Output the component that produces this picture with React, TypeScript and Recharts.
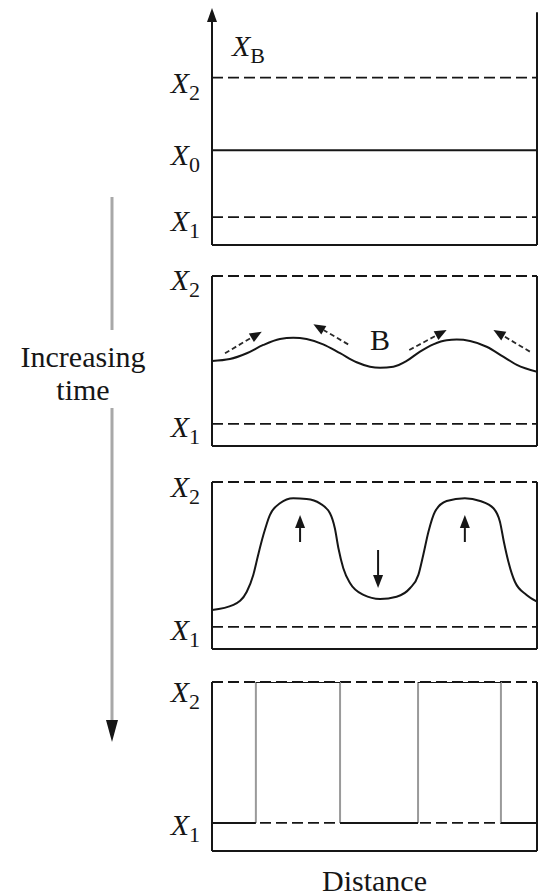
import { LineChart, Line, XAxis, YAxis, ReferenceLine, ReferenceDot } from "recharts";

// composition levels
const X1 = 1;
const X2 = 2;
const X0 = 1.48;

// stage 1: uniform solution
const distFlat = [0, 1];
const compFlat = [X0, X0];

// stage 2: small fluctuation
const distEarly = [
  0, 0.055, 0.107, 0.158, 0.209, 0.25, 0.291, 0.342, 0.394, 0.445, 0.486, 0.517,
  0.558, 0.599, 0.64, 0.681, 0.722, 0.753, 0.794, 0.845, 0.896, 0.938, 1,
];
const compEarly = [
  1.426, 1.439, 1.478, 1.534, 1.574, 1.583, 1.574, 1.538, 1.478, 1.417, 1.387, 1.38,
  1.387, 1.426, 1.489, 1.538, 1.566, 1.57, 1.561, 1.522, 1.455, 1.399, 1.353,
];

// stage 3: amplified fluctuation
const distLate = [
  0, 0.066, 0.107, 0.127, 0.142, 0.158, 0.178, 0.209, 0.25, 0.291, 0.332, 0.363,
  0.378, 0.389, 0.404, 0.425, 0.466, 0.517, 0.568, 0.609, 0.635, 0.65, 0.666, 0.686,
  0.722, 0.778, 0.825, 0.866, 0.886, 0.898, 0.912, 0.932, 0.968, 1,
];
const compLate = [
  1.117, 1.152, 1.243, 1.359, 1.497, 1.634, 1.772, 1.853, 1.888, 1.883, 1.853, 1.784,
  1.681, 1.543, 1.405, 1.301, 1.221, 1.193, 1.209, 1.267, 1.359, 1.497, 1.657, 1.795,
  1.869, 1.888, 1.869, 1.819, 1.726, 1.588, 1.45, 1.312, 1.221, 1.174,
];

// stage 4: two phases
const distFinal = [0, 0.135, 0.394, 0.634, 0.889, 1];
const compFinal = [X1, X2, X1, X2, X1, X1];

// diffusion arrows in stage 2 (dashed)
const flowTailD = [0.04, 0.419, 0.607, 0.978];
const flowTailC = [1.478, 1.538, 1.5, 1.489];
const flowTipD = [0.153, 0.312, 0.722, 0.866];
const flowTipC = [1.624, 1.674, 1.635, 1.635];

// growth arrows in stage 3
const growD = [0.271, 0.511, 0.778];
const growTailC = [1.586, 1.531, 1.586];
const growTipC = [1.772, 1.269, 1.772];

const INK = "#161616";
const FONT = "Liberation Serif";
const LEFT = 212;
const W = 542;

const toRows = (ds: number[], cs: (number | null)[]) => ds.map((d, i) => ({ d, v: cs[i] }));

// split the step profile in horizontal and vertical pieces
const finalFlats: { d: number; v: number | null }[] = [];
const finalSteps: { d: number; v: number | null }[] = [];
for (let i = 0; i < distFinal.length - 1; i++) {
  finalFlats.push({ d: distFinal[i], v: compFinal[i] }, { d: distFinal[i + 1], v: compFinal[i] }, { d: distFinal[i + 1], v: null });
  if (i > 0 && compFinal[i] !== compFinal[i - 1]) {
    finalSteps.push({ d: distFinal[i], v: compFinal[i - 1] }, { d: distFinal[i], v: compFinal[i] }, { d: distFinal[i], v: null });
  }
}

const arrowShape = (head: number, width: number, sw: number, dash?: string, color = INK) => (p: any) => {
  const { x1, y1, x2, y2 } = p;
  const a = Math.atan2(y2 - y1, x2 - x1);
  const bx = x2 - head * Math.cos(a);
  const by = y2 - head * Math.sin(a);
  const nx = (-Math.sin(a) * width) / 2;
  const ny = (Math.cos(a) * width) / 2;
  return (
    <g>
      <line x1={x1} y1={y1} x2={bx} y2={by} stroke={color} strokeWidth={sw} strokeDasharray={dash} />
      <polygon points={`${x2},${y2} ${bx + nx},${by + ny} ${bx - nx},${by - ny}`} fill={INK} />
    </g>
  );
};

function LevelTick(props: any) {
  const { y, payload, values, subs, shifts } = props;
  const idx = values.indexOf(payload.value);
  return (
    <text x={LEFT - 12} y={y + shifts[idx]} textAnchor="end" style={{ fontFamily: FONT }} fontSize={30} fill={INK}>
      <tspan fontStyle="italic">X</tspan>
      <tspan fontSize={22} dy={7}>
        {subs[idx]}
      </tspan>
    </text>
  );
}

interface PanelProps {
  top: number;
  height: number;
  margin: { top: number; bottom: number };
  domain: [number, number];
  ticks: number[];
  subs: string[];
  shifts: number[];
  arrowAxis?: boolean;
  distanceLabel?: boolean;
  children?: React.ReactNode;
}

function Panel({ top, height, margin, domain, ticks, subs, shifts, arrowAxis, distanceLabel, children }: PanelProps) {
  return (
    <div style={{ position: "absolute", left: 0, top }}>
      <LineChart width={W} height={height} margin={{ top: margin.top, bottom: margin.bottom, left: 0, right: 5 }}>
        <XAxis
          type="number"
          dataKey="d"
          domain={[0, 1]}
          allowDataOverflow
          hide={!distanceLabel}
          height={45}
          axisLine={false}
          tickLine={false}
          tick={false}
          label={
            distanceLabel
              ? { value: "Distance", position: "insideBottom", offset: 5, style: { fontFamily: FONT }, fontSize: 30, fill: INK }
              : undefined
          }
        />
        <YAxis
          type="number"
          domain={domain}
          allowDataOverflow
          width={LEFT}
          ticks={ticks}
          interval={0}
          tickLine={false}
          axisLine={arrowAxis ? false : { stroke: INK, strokeWidth: 2 }}
          tick={(p: any) => <LevelTick {...p} values={ticks} subs={subs} shifts={shifts} />}
        />
        {arrowAxis && (
          <ReferenceLine
            segment={[{ x: 0, y: domain[0] }, { x: 0, y: domain[1] }]}
            ifOverflow="visible"
            shape={arrowShape(14, 10, 2)}
          />
        )}
        <ReferenceLine y={domain[0]} stroke={INK} strokeWidth={2} ifOverflow="visible" />
        <ReferenceLine
          segment={[{ x: 1, y: domain[0] }, { x: 1, y: arrowAxis ? domain[1] - 0.03 : domain[1] }]}
          stroke={INK}
          strokeWidth={2}
          ifOverflow="visible"
        />
        <ReferenceLine y={X2} stroke={INK} strokeWidth={1.8} strokeDasharray="11 5" ifOverflow="visible" />
        <ReferenceLine y={X1} stroke={INK} strokeWidth={1.8} strokeDasharray="11 5" ifOverflow="visible" />
        {children}
      </LineChart>
    </div>
  );
}

export default function App() {
  return (
    <div style={{ position: "absolute", left: 0, top: 0, width: W, height: 896, background: "#fff", fontFamily: FONT }}>
      <Panel
        top={0}
        height={250}
        margin={{ top: 8, bottom: 5 }}
        domain={[0.8, 2.5]}
        ticks={[X1, X0, X2]}
        subs={["1", "0", "2"]}
        shifts={[14, 15, 15]}
        arrowAxis
      >
        <Line data={toRows(distFlat, compFlat)} dataKey="v" stroke={INK} strokeWidth={2} dot={false} activeDot={false} isAnimationActive={false} />
      </Panel>

      <Panel top={260} height={200} margin={{ top: 16, bottom: 14 }} domain={[0.851, 2]} ticks={[X1, X2]} subs={["1", "2"]} shifts={[13, 14]}>
        <Line
          data={toRows(distEarly, compEarly)}
          dataKey="v"
          type="monotone"
          stroke={INK}
          strokeWidth={2}
          dot={false}
          activeDot={false}
          isAnimationActive={false}
        />
        {flowTailD.map((d, i) => (
          <ReferenceLine
            key={i}
            segment={[{ x: d, y: flowTailC[i] }, { x: flowTipD[i], y: flowTipC[i] }]}
            ifOverflow="visible"
            shape={arrowShape(12, 10, 1.8, "5 3", "#2a2a2a")}
          />
        ))}
        <ReferenceDot
          x={0.517}
          y={1.57}
          r={0}
          ifOverflow="visible"
          label={{ value: "B", position: "center", style: { fontFamily: FONT }, fontSize: 30, fill: INK }}
        />
      </Panel>

      <Panel top={465} height={200} margin={{ top: 17, bottom: 16 }} domain={[0.848, 2]} ticks={[X1, X2]} subs={["1", "2"]} shifts={[13, 15]}>
        <Line
          data={toRows(distLate, compLate)}
          dataKey="v"
          type="monotone"
          stroke={INK}
          strokeWidth={2}
          dot={false}
          activeDot={false}
          isAnimationActive={false}
        />
        {growD.map((d, i) => (
          <ReferenceLine
            key={i}
            segment={[{ x: d, y: growTailC[i] }, { x: d, y: growTipC[i] }]}
            ifOverflow="visible"
            shape={arrowShape(13, 10, 2)}
          />
        ))}
      </Panel>

      <Panel
        top={665}
        height={231}
        margin={{ top: 17, bottom: 0 }}
        domain={[0.801, 2]}
        ticks={[X1, X2]}
        subs={["1", "2"]}
        shifts={[12, 20]}
        distanceLabel
      >
        <Line data={finalSteps} dataKey="v" stroke="#9a9a9a" strokeWidth={2} dot={false} activeDot={false} isAnimationActive={false} />
        <Line data={finalFlats} dataKey="v" stroke={INK} strokeWidth={2} dot={false} activeDot={false} isAnimationActive={false} />
      </Panel>

      <svg width={W} height={896} style={{ position: "absolute", left: 0, top: 0, pointerEvents: "none", fontFamily: FONT }}>
        <line x1={112} y1={197} x2={112} y2={330} stroke="#a8a8a8" strokeWidth={3} />
        <line x1={112} y1={408} x2={112} y2={722} stroke="#a8a8a8" strokeWidth={3} />
        <polygon points="106,720 118,720 112,742" fill={INK} />
        <text x={83} y={367} textAnchor="middle" fontSize={30} fill={INK}>
          Increasing
        </text>
        <text x={83} y={400} textAnchor="middle" fontSize={30} fill={INK}>
          time
        </text>
        <text x={232} y={56} fontSize={30} fill={INK}>
          <tspan fontStyle="italic">X</tspan>
          <tspan fontSize={22} dy={7}>
            B
          </tspan>
        </text>
      </svg>
    </div>
  );
}
